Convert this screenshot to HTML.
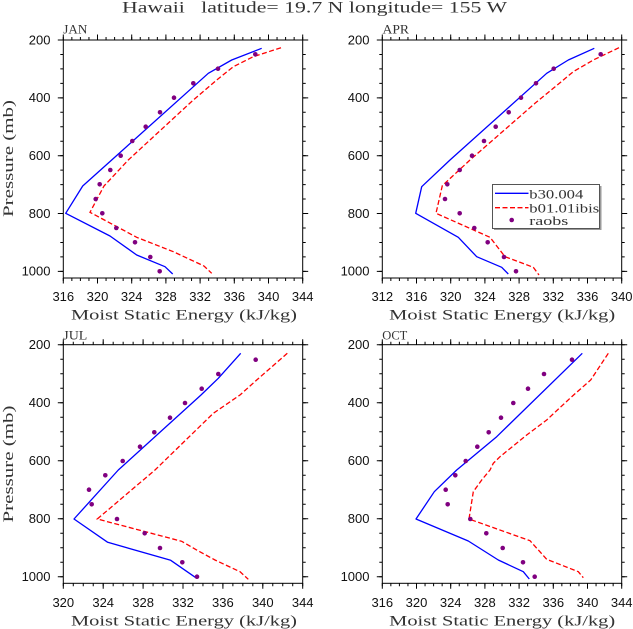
<!DOCTYPE html>
<html><head><meta charset="utf-8"><style>
html,body{margin:0;padding:0;background:#fff;}
svg{display:block;}
.t{font-family:"Liberation Sans",sans-serif;font-size:13px;fill:#111;}
.s{font-family:"Liberation Serif",serif;fill:#333;}
.fr{fill:none;stroke:#000;stroke-width:1;}
.tk{stroke:#000;fill:none;}
.b{fill:none;stroke:#0000ff;stroke-width:1.3;stroke-linejoin:round;}
.r{fill:none;stroke:#ff0000;stroke-width:1.3;stroke-dasharray:5 2.5;}
.d{fill:#800080;}
</style></head><body>
<svg width="633" height="629" viewBox="0 0 633 629" xmlns="http://www.w3.org/2000/svg">
<text class="s" x="122" y="12.7" font-size="16" textLength="385" lengthAdjust="spacingAndGlyphs">Hawaii&#160;&#160;&#160;latitude=&#160;19.7 N longitude=&#160;155 W</text>

<!-- ================= JAN ================= -->
<g>
<text class="s" x="63.3" y="33.3" font-size="13" textLength="24" lengthAdjust="spacingAndGlyphs">JAN</text>
<rect class="fr" x="63.3" y="40" width="239.4" height="238"/>
<line class="tk" x1="62.8" x2="303.2" y1="38.5" y2="38.5" stroke-width="3" stroke-dasharray="1 7.55"/>
<line class="tk" x1="62.8" x2="303.2" y1="37.25" y2="37.25" stroke-width="5.5" stroke-dasharray="1 33.2"/>
<line class="tk" x1="62.8" x2="303.2" y1="279.5" y2="279.5" stroke-width="3" stroke-dasharray="1 7.55"/>
<line class="tk" x1="62.8" x2="303.2" y1="280.75" y2="280.75" stroke-width="5.5" stroke-dasharray="1 33.2"/>
<line class="tk" x1="61.8" x2="61.8" y1="39.5" y2="271.9" stroke-width="3" stroke-dasharray="1 13.46"/>
<line class="tk" x1="60.55" x2="60.55" y1="39.5" y2="271.9" stroke-width="5.5" stroke-dasharray="1 56.85"/>
<line class="tk" x1="304.2" x2="304.2" y1="39.5" y2="271.9" stroke-width="3" stroke-dasharray="1 13.46"/>
<line class="tk" x1="305.45" x2="305.45" y1="39.5" y2="271.9" stroke-width="5.5" stroke-dasharray="1 56.85"/>
<g class="t" text-anchor="end">
<text x="50.5" y="44.3">200</text><text x="50.5" y="102.1">400</text><text x="50.5" y="160">600</text><text x="50.5" y="217.8">800</text><text x="50.5" y="275.7">1000</text>
</g>
<g class="t" text-anchor="middle">
<text x="63.3" y="301">316</text><text x="97.5" y="301">320</text><text x="131.7" y="301">324</text><text x="165.9" y="301">328</text><text x="200.1" y="301">332</text><text x="234.3" y="301">336</text><text x="268.5" y="301">340</text><text x="302.7" y="301">344</text>
</g>
<text class="s" x="184" y="319.5" font-size="15" text-anchor="middle" textLength="226" lengthAdjust="spacingAndGlyphs">Moist Static Energy (kJ/kg)</text>
<text class="s" transform="translate(13,158.5) rotate(-90)" font-size="15" text-anchor="middle" textLength="117" lengthAdjust="spacingAndGlyphs">Pressure (mb)</text>
<polyline class="b" points="261.7,48.3 231.7,60 208.3,73.3 111.7,160 82.7,186 65.7,213.3 110,236 136.7,255 165,266.7 172.7,274"/>
<polyline class="r" points="281,47.7 253.3,56.7 233.3,66.7 216.7,80 193.3,100 128.3,160 104,186 90,212.3 136.7,237.3 173.3,251.7 204,266 211.7,273.3"/>
<g class="d">
<circle cx="255.3" cy="54.3" r="2.3"/><circle cx="218" cy="68.7" r="2.3"/><circle cx="193.3" cy="83.3" r="2.3"/><circle cx="174" cy="97.7" r="2.3"/><circle cx="160" cy="112.3" r="2.3"/><circle cx="145.7" cy="126.7" r="2.3"/><circle cx="132.3" cy="141" r="2.3"/><circle cx="120.7" cy="155.7" r="2.3"/><circle cx="110.3" cy="170" r="2.3"/><circle cx="99.7" cy="184.3" r="2.3"/><circle cx="95.7" cy="199" r="2.3"/><circle cx="102.3" cy="213.3" r="2.3"/><circle cx="116.3" cy="228" r="2.3"/><circle cx="135" cy="242.3" r="2.3"/><circle cx="150.3" cy="257" r="2.3"/><circle cx="159.7" cy="271.3" r="2.3"/>
</g>
</g>

<!-- ================= APR ================= -->
<g>
<text class="s" x="382.5" y="33.3" font-size="13" textLength="26.5" lengthAdjust="spacingAndGlyphs">APR</text>
<rect class="fr" x="382.3" y="40" width="239.4" height="238"/>
<line class="tk" x1="381.8" x2="622.2" y1="38.5" y2="38.5" stroke-width="3" stroke-dasharray="1 7.55"/>
<line class="tk" x1="381.8" x2="622.2" y1="37.25" y2="37.25" stroke-width="5.5" stroke-dasharray="1 33.2"/>
<line class="tk" x1="381.8" x2="622.2" y1="279.5" y2="279.5" stroke-width="3" stroke-dasharray="1 7.55"/>
<line class="tk" x1="381.8" x2="622.2" y1="280.75" y2="280.75" stroke-width="5.5" stroke-dasharray="1 33.2"/>
<line class="tk" x1="380.8" x2="380.8" y1="39.5" y2="271.9" stroke-width="3" stroke-dasharray="1 13.46"/>
<line class="tk" x1="379.55" x2="379.55" y1="39.5" y2="271.9" stroke-width="5.5" stroke-dasharray="1 56.85"/>
<line class="tk" x1="623.2" x2="623.2" y1="39.5" y2="271.9" stroke-width="3" stroke-dasharray="1 13.46"/>
<line class="tk" x1="624.45" x2="624.45" y1="39.5" y2="271.9" stroke-width="5.5" stroke-dasharray="1 56.85"/>
<g class="t" text-anchor="end">
<text x="369.5" y="44.3">200</text><text x="369.5" y="102.1">400</text><text x="369.5" y="160">600</text><text x="369.5" y="217.8">800</text><text x="369.5" y="275.7">1000</text>
</g>
<g class="t" text-anchor="middle">
<text x="382.3" y="301">312</text><text x="416.5" y="301">316</text><text x="450.7" y="301">320</text><text x="484.9" y="301">324</text><text x="519.1" y="301">328</text><text x="553.3" y="301">332</text><text x="587.5" y="301">336</text><text x="621.7" y="301">340</text>
</g>
<text class="s" x="502.2" y="319.5" font-size="15" text-anchor="middle" textLength="226" lengthAdjust="spacingAndGlyphs">Moist Static Energy (kJ/kg)</text>
<polyline class="b" points="594.3,48.3 568.3,60 546.7,73.3 450,160 421.7,186.7 415.7,213.3 458.3,237.3 476.7,256.7 501.7,267.3 508.3,274"/>
<polyline class="r" points="619,47.7 593.3,60 573.3,71.7 553.3,88.3 535,103.3 470,160 442.3,185.7 436,213.3 490,237.3 505,256.7 533.3,267.3 539,275"/>
<g class="d">
<circle cx="600.7" cy="54.3" r="2.3"/><circle cx="553.7" cy="68.7" r="2.3"/><circle cx="536" cy="83.3" r="2.3"/><circle cx="521" cy="97.7" r="2.3"/><circle cx="508.7" cy="112.3" r="2.3"/><circle cx="495.7" cy="126.7" r="2.3"/><circle cx="484" cy="141" r="2.3"/><circle cx="472" cy="155.7" r="2.3"/><circle cx="459.7" cy="170" r="2.3"/><circle cx="447.3" cy="184.3" r="2.3"/><circle cx="445" cy="199" r="2.3"/><circle cx="459.7" cy="213.3" r="2.3"/><circle cx="474.3" cy="228" r="2.3"/><circle cx="487.7" cy="242.3" r="2.3"/><circle cx="504" cy="257" r="2.3"/><circle cx="516" cy="271.3" r="2.3"/>
</g>
<rect x="494" y="186" width="107.5" height="44" fill="#9a9a9a"/>
<rect x="492.5" y="184.5" width="107" height="44" fill="#fff" stroke="#555" stroke-width="1"/>
<line x1="495" x2="528.5" y1="193.3" y2="193.3" stroke="#0000ff" stroke-width="1.3"/>
<line x1="495" x2="528.5" y1="207.7" y2="207.7" stroke="#ff0000" stroke-width="1.3" stroke-dasharray="5 2.5"/>
<circle class="d" cx="511.7" cy="220" r="2.3"/>
<text class="s" x="529.3" y="198.3" font-size="13" textLength="54" lengthAdjust="spacingAndGlyphs">b30.004</text>
<text class="s" x="529.3" y="212.5" font-size="13" textLength="70" lengthAdjust="spacingAndGlyphs">b01.01ibis</text>
<text class="s" x="529.3" y="225" font-size="13" textLength="39" lengthAdjust="spacingAndGlyphs">raobs</text>
</g>

<!-- ================= JUL ================= -->
<g>
<text class="s" x="63.3" y="339.3" font-size="13" textLength="24" lengthAdjust="spacingAndGlyphs">JUL</text>
<rect class="fr" x="63.3" y="344.7" width="239.4" height="238.6"/>
<line class="tk" x1="62.8" x2="303.2" y1="343.2" y2="343.2" stroke-width="3" stroke-dasharray="1 8.975"/>
<line class="tk" x1="62.8" x2="303.2" y1="341.95" y2="341.95" stroke-width="5.5" stroke-dasharray="1 38.9"/>
<line class="tk" x1="62.8" x2="303.2" y1="584.8" y2="584.8" stroke-width="3" stroke-dasharray="1 8.975"/>
<line class="tk" x1="62.8" x2="303.2" y1="586.05" y2="586.05" stroke-width="5.5" stroke-dasharray="1 38.9"/>
<line class="tk" x1="61.8" x2="61.8" y1="344.2" y2="577.2" stroke-width="3" stroke-dasharray="1 13.5"/>
<line class="tk" x1="60.55" x2="60.55" y1="344.2" y2="577.2" stroke-width="5.5" stroke-dasharray="1 57"/>
<line class="tk" x1="304.2" x2="304.2" y1="344.2" y2="577.2" stroke-width="3" stroke-dasharray="1 13.5"/>
<line class="tk" x1="305.45" x2="305.45" y1="344.2" y2="577.2" stroke-width="5.5" stroke-dasharray="1 57"/>
<g class="t" text-anchor="end">
<text x="50.5" y="349">200</text><text x="50.5" y="407">400</text><text x="50.5" y="465">600</text><text x="50.5" y="523">800</text><text x="50.5" y="581">1000</text>
</g>
<g class="t" text-anchor="middle">
<text x="63.3" y="607">320</text><text x="103.2" y="607">324</text><text x="143.1" y="607">328</text><text x="183" y="607">332</text><text x="222.9" y="607">336</text><text x="262.8" y="607">340</text><text x="302.7" y="607">344</text>
</g>
<text class="s" x="184" y="625.5" font-size="15" text-anchor="middle" textLength="226" lengthAdjust="spacingAndGlyphs">Moist Static Energy (kJ/kg)</text>
<text class="s" transform="translate(13,464) rotate(-90)" font-size="15" text-anchor="middle" textLength="117" lengthAdjust="spacingAndGlyphs">Pressure (mb)</text>
<polyline class="b" points="240.7,353.3 218.3,378.3 201,395 118.3,470 74,519 107.7,542.3 170.7,560.3 196.7,578.3"/>
<polyline class="r" points="287.3,353.3 256.7,380 240,395 213.3,413.3 155,470 97.3,519 181.7,541.3 196.7,550 215,560 240,571.7 248.3,579.3"/>
<g class="d">
<circle cx="255.7" cy="359.7" r="2.3"/><circle cx="218.3" cy="374" r="2.3"/><circle cx="201.7" cy="388.7" r="2.3"/><circle cx="185" cy="403" r="2.3"/><circle cx="170" cy="417.7" r="2.3"/><circle cx="154.3" cy="432.3" r="2.3"/><circle cx="140" cy="446.7" r="2.3"/><circle cx="122.7" cy="461" r="2.3"/><circle cx="105.3" cy="475.3" r="2.3"/><circle cx="89" cy="489.7" r="2.3"/><circle cx="91.7" cy="504.3" r="2.3"/><circle cx="117" cy="519" r="2.3"/><circle cx="144.7" cy="533.3" r="2.3"/><circle cx="160" cy="548" r="2.3"/><circle cx="182.3" cy="562.3" r="2.3"/><circle cx="197" cy="576.7" r="2.3"/>
</g>
</g>

<!-- ================= OCT ================= -->
<g>
<text class="s" x="382.3" y="339.3" font-size="13" textLength="25" lengthAdjust="spacingAndGlyphs">OCT</text>
<rect class="fr" x="382.3" y="344.7" width="239.4" height="238.6"/>
<line class="tk" x1="381.8" x2="622.2" y1="343.2" y2="343.2" stroke-width="3" stroke-dasharray="1 7.55"/>
<line class="tk" x1="381.8" x2="622.2" y1="341.95" y2="341.95" stroke-width="5.5" stroke-dasharray="1 33.2"/>
<line class="tk" x1="381.8" x2="622.2" y1="584.8" y2="584.8" stroke-width="3" stroke-dasharray="1 7.55"/>
<line class="tk" x1="381.8" x2="622.2" y1="586.05" y2="586.05" stroke-width="5.5" stroke-dasharray="1 33.2"/>
<line class="tk" x1="380.8" x2="380.8" y1="344.2" y2="577.2" stroke-width="3" stroke-dasharray="1 13.5"/>
<line class="tk" x1="379.55" x2="379.55" y1="344.2" y2="577.2" stroke-width="5.5" stroke-dasharray="1 57"/>
<line class="tk" x1="623.2" x2="623.2" y1="344.2" y2="577.2" stroke-width="3" stroke-dasharray="1 13.5"/>
<line class="tk" x1="624.45" x2="624.45" y1="344.2" y2="577.2" stroke-width="5.5" stroke-dasharray="1 57"/>
<g class="t" text-anchor="end">
<text x="369.5" y="349">200</text><text x="369.5" y="407">400</text><text x="369.5" y="465">600</text><text x="369.5" y="523">800</text><text x="369.5" y="581">1000</text>
</g>
<g class="t" text-anchor="middle">
<text x="382.3" y="607">316</text><text x="416.5" y="607">320</text><text x="450.7" y="607">324</text><text x="484.9" y="607">328</text><text x="519.1" y="607">332</text><text x="553.3" y="607">336</text><text x="587.5" y="607">340</text><text x="621.7" y="607">344</text>
</g>
<text class="s" x="502.2" y="625.5" font-size="15" text-anchor="middle" textLength="226" lengthAdjust="spacingAndGlyphs">Moist Static Energy (kJ/kg)</text>
<polyline class="b" points="582.3,353.3 496.7,436.7 456.7,470 434.3,491.7 416,519 468.3,541 498.3,560 523.3,571.7 529.3,579"/>
<polyline class="r" points="608.3,353.3 590.7,380 571.7,396.7 546.7,420 526.7,435 500,456.7 493.3,463.3 490,470 481.7,480 473.3,491.7 469,519 530,540.7 546.7,559.3 578.3,571.7 583.3,577.7"/>
<g class="d">
<circle cx="572" cy="359.7" r="2.3"/><circle cx="544" cy="374" r="2.3"/><circle cx="528" cy="388.7" r="2.3"/><circle cx="513.3" cy="403" r="2.3"/><circle cx="501" cy="417.7" r="2.3"/><circle cx="488.7" cy="432.3" r="2.3"/><circle cx="477.3" cy="446.7" r="2.3"/><circle cx="465.7" cy="461" r="2.3"/><circle cx="455.3" cy="475.3" r="2.3"/><circle cx="445.7" cy="489.7" r="2.3"/><circle cx="447.7" cy="504.3" r="2.3"/><circle cx="470.3" cy="519" r="2.3"/><circle cx="486.3" cy="533.3" r="2.3"/><circle cx="502.7" cy="548" r="2.3"/><circle cx="523" cy="562.3" r="2.3"/><circle cx="534.7" cy="576.7" r="2.3"/>
</g>
</g>
</svg>
</body></html>
